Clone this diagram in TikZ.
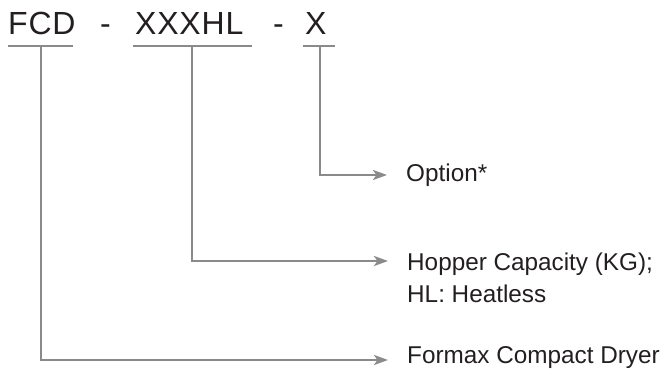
\documentclass[tikz,border=0pt]{standalone}
\usepackage{fontspec}
\setmainfont{Liberation Sans}
\usetikzlibrary{arrows.meta}
\definecolor{ink}{HTML}{231F20}
\definecolor{wire}{HTML}{8A8A8A}
\begin{document}
\begin{tikzpicture}[x=1pt,y=-1pt,
  titletext/.style={inner sep=0pt,anchor=base west,text=ink,font=\fontsize{32}{36}\selectfont\addfontfeature{LetterSpace=2.5}},
  labeltext/.style={inner sep=0pt,anchor=base west,text=ink,font=\fontsize{24.3}{28}\selectfont},
  bar/.style={draw=wire,line width=2.7pt},
  conn/.style={draw=wire,line width=2.7pt,-{Stealth[length=14pt,width=10pt,inset=3.5pt]}}]
\useasboundingbox (0,0) rectangle (664,374);
% title pieces
\node[titletext] (fcd) at (8,35) {FCD};
\node[titletext] (dash1) at (100,35) {-};
\node[titletext] (xxx) at (135,35) {XXXHL};
\node[titletext] (dash2) at (273,35) {-};
\node[titletext] (xopt) at (305,35) {X};
% labels
\node[labeltext] (option) at (406,182) {Option*};
\node[labeltext] (hop1) at (407,270) {Hopper Capacity (KG);};
\node[labeltext] (hop2) at (407,302) {HL: Heatless};
\node[labeltext] (formax) at (407,363) {Formax Compact Dryer};
% underlines
\coordinate (fcdL) at (8,46);   \coordinate (fcdR) at (73,46);
\coordinate (xxxL) at (133,46); \coordinate (xxxR) at (252,46);
\coordinate (xL) at (303,46);   \coordinate (xR) at (335,46);
\draw[bar] (fcdL) -- (fcdR);
\draw[bar] (xxxL) -- (xxxR);
\draw[bar] (xL) -- (xR);
% stubs and arrow tips
\coordinate (fcdS) at (41,46);
\coordinate (xxxS) at (192,46);
\coordinate (xS) at (320,46);
\coordinate (optTip) at (387,175);
\coordinate (hopTip) at (388,261);
\coordinate (forTip) at (388,360);
\draw[conn] (xS) |- (optTip);
\draw[conn] (xxxS) |- (hopTip);
\draw[conn] (fcdS) |- (forTip);
\end{tikzpicture}
\end{document}
